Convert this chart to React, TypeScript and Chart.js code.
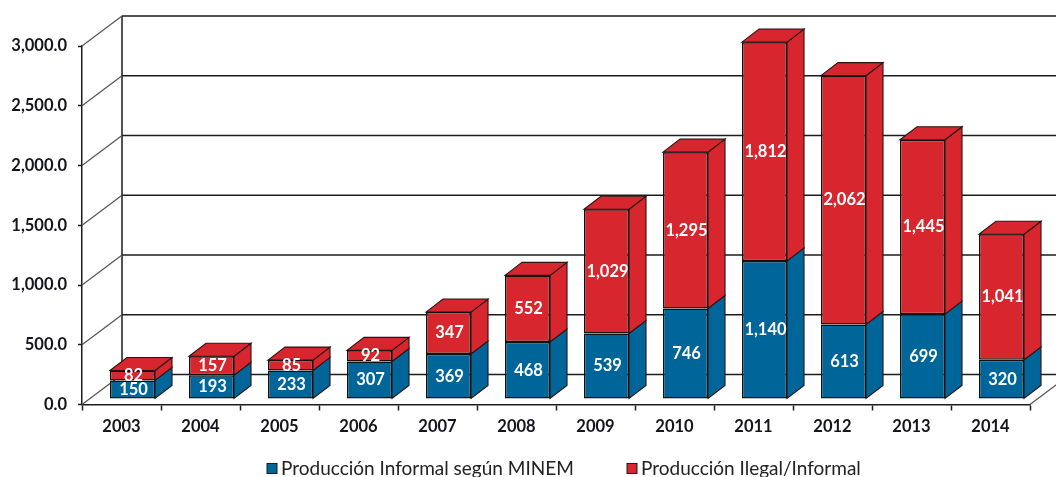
import React, { useEffect, useRef } from "react";
import { Chart, registerables } from "chart.js";

Chart.register(...registerables);

const years = ["2003", "2004", "2005", "2006", "2007", "2008", "2009", "2010", "2011", "2012", "2013", "2014"];
const informal = [150, 193, 233, 307, 369, 468, 539, 746, 1140, 613, 699, 320];
const ilegal = [82, 157, 85, 92, 347, 552, 1029, 1295, 1812, 2062, 1445, 1041];
const seriesNames = ["Producción Informal según MINEM", "Producción Ilegal/Informal"];
const seriesColors = ["#006699", "#D8262E"];

const INK = "#1c1c1c";
const WALL = { dx: 40, dy: -30 };
const BAR_DEPTH = { dx: 17, dy: -13 };
const BAR_SHIFT = { dx: 11, dy: -6 };
const TICK_FONT = { family: "Lato", size: 16.5, weight: "bold" as const };

const walls3d = {
  id: "walls3d",
  beforeDatasetsDraw(chart: any) {
    const { ctx, chartArea, scales } = chart;
    const y = scales.y;
    ctx.save();
    ctx.lineWidth = 1.5;
    ctx.strokeStyle = INK;
    const backLeft = chartArea.left + WALL.dx;
    ctx.beginPath();
    ctx.moveTo(backLeft, y.getPixelForValue(y.max) + WALL.dy);
    ctx.lineTo(backLeft, y.getPixelForValue(0) + WALL.dy);
    y.ticks.forEach((t: any) => {
      const py = y.getPixelForValue(t.value);
      ctx.moveTo(backLeft, py + WALL.dy);
      ctx.lineTo(chart.width, py + WALL.dy);
    });
    ctx.stroke();
    ctx.strokeStyle = "#555";
    ctx.lineWidth = 1.2;
    ctx.beginPath();
    y.ticks.forEach((t: any) => {
      const py = y.getPixelForValue(t.value);
      ctx.moveTo(chartArea.left, py);
      ctx.lineTo(backLeft, py + WALL.dy);
    });
    const by = y.getPixelForValue(0);
    ctx.moveTo(chartArea.right, by);
    ctx.lineTo(chartArea.right + WALL.dx, by + WALL.dy);
    ctx.stroke();
    ctx.restore();

    // 3D faces of every bar, then the bars themselves, in the shifted plane
    ctx.save();
    ctx.translate(BAR_SHIFT.dx, BAR_SHIFT.dy);
    ctx.lineWidth = 1.1;
    ctx.strokeStyle = "#2a1414";
    chart.data.datasets.forEach((ds: any, i: number) => {
      const last = i === chart.data.datasets.length - 1;
      chart.getDatasetMeta(i).data.forEach((bar: any) => {
        const r = bar.x + bar.width / 2;
        const l = bar.x - bar.width / 2;
        const { dx, dy } = BAR_DEPTH;
        ctx.fillStyle = ds.backgroundColor;
        ctx.beginPath();
        ctx.moveTo(r, bar.y);
        ctx.lineTo(r + dx, bar.y + dy);
        ctx.lineTo(r + dx, bar.base + dy);
        ctx.lineTo(r, bar.base);
        ctx.closePath();
        ctx.fill();
        ctx.stroke();
        if (last) {
          ctx.beginPath();
          ctx.moveTo(l, bar.y);
          ctx.lineTo(l + dx, bar.y + dy);
          ctx.lineTo(r + dx, bar.y + dy);
          ctx.lineTo(r, bar.y);
          ctx.closePath();
          ctx.fill();
          ctx.stroke();
        }
      });
    });
  },
  afterDatasetsDraw(chart: any) {
    const { ctx } = chart;
    ctx.restore();
    ctx.save();
    ctx.fillStyle = "#ffffff";
    ctx.font = "bold 16.5px Lato";
    ctx.textAlign = "center";
    ctx.textBaseline = "middle";
    chart.data.datasets.forEach((ds: any, i: number) => {
      chart.getDatasetMeta(i).data.forEach((bar: any, j: number) => {
        const text = ds.data[j].toLocaleString("en-US");
        ctx.fillText(text, bar.x + BAR_SHIFT.dx + 1, (bar.y + bar.base) / 2 + BAR_SHIFT.dy);
      });
    });
    ctx.restore();
  },
};

const bottomLegend = {
  id: "bottomLegend",
  afterDraw(chart: any) {
    const { ctx } = chart;
    const starts = [267, 627];
    const cy = 468.5;
    ctx.save();
    ctx.font = "19px Lato";
    ctx.textBaseline = "middle";
    ctx.textAlign = "left";
    chart.data.datasets.forEach((ds: any, i: number) => {
      ctx.fillStyle = ds.backgroundColor;
      ctx.strokeStyle = INK;
      ctx.lineWidth = 1;
      ctx.fillRect(starts[i], cy - 5, 10, 10);
      ctx.strokeRect(starts[i], cy - 5, 10, 10);
      ctx.fillStyle = "#222222";
      ctx.fillText(ds.label, starts[i] + 14, cy);
    });
    ctx.restore();
  },
};

export default function App() {
  const ref = useRef<HTMLCanvasElement>(null);
  useEffect(() => {
    const chart = new Chart(ref.current as HTMLCanvasElement, {
      type: "bar",
      data: {
        labels: years,
        datasets: [informal, ilegal].map((data, i) => ({
          label: seriesNames[i],
          data,
          backgroundColor: seriesColors[i],
          borderColor: "#111111",
          borderWidth: 1.5,
          borderSkipped: false,
          yAxisID: "yBars",
          barPercentage: 0.57,
          categoryPercentage: 1,
          clip: false,
        })),
      },
      options: {
        responsive: false,
        animation: false,
        layout: { padding: { top: 46, right: 26, left: 0, bottom: 0 } },
        plugins: { legend: { display: false }, tooltip: { enabled: false } },
        scales: {
          x: {
            stacked: true,
            offset: true,
            afterFit: (s: any) => { s.height = 72.5; },
            border: { color: INK, width: 1.5 },
            grid: { offset: true, drawOnChartArea: false, color: INK, tickLength: 6, tickWidth: 1.5, tickColor: INK },
            ticks: { color: "#14141c", font: TICK_FONT, padding: 6, maxRotation: 0 },
          },
          y: {
            min: 0,
            max: 3000,
            afterFit: (s: any) => { s.width = 82; },
            border: { color: INK, width: 1.5 },
            grid: { drawOnChartArea: false, tickLength: 4, tickWidth: 1.5, tickColor: INK },
            ticks: {
              stepSize: 500,
              color: "#14141c",
              font: TICK_FONT,
              padding: 11,
              callback: (v: any) => Number(v).toLocaleString("en-US", { minimumFractionDigits: 1, maximumFractionDigits: 1 }),
            },
          },
          yBars: { display: false, stacked: true, min: 0, max: 2970 },
        },
      },
      plugins: [walls3d, bottomLegend],
    } as any);
    return () => chart.destroy();
  }, []);
  return (
    <div style={{ position: "absolute", left: 0, top: 0, width: 1056, height: 477, background: "#fff" }}>
      <canvas ref={ref} width={1056} height={477} style={{ display: "block" }} />
    </div>
  );
}
